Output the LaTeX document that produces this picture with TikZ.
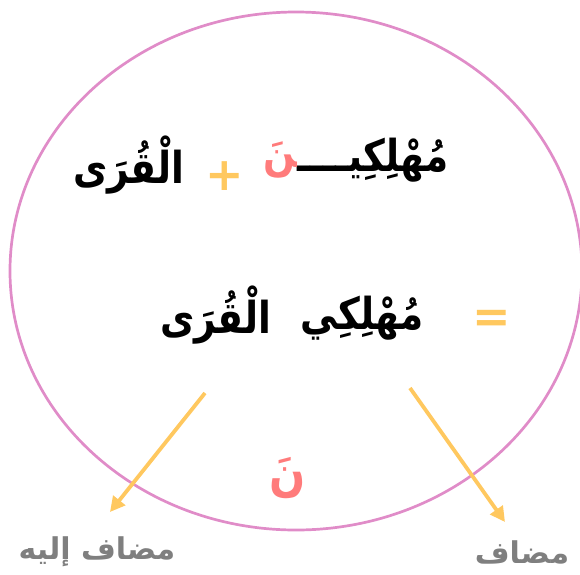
\documentclass[tikz,border=0pt]{standalone}
\usepackage{fontspec}
\usepackage{graphicx}
\usetikzlibrary{arrows.meta}
\TeXXeTstate=1
\newfontfamily\arabicfont[Script=Arabic]{DejaVu Sans}
\newcommand\narrowar[1]{\scalebox{0.85}[1]{\beginR #1\endR}}
\definecolor{ringc}{HTML}{E08CC8}
\definecolor{pinkc}{HTML}{FF7B7B}
\definecolor{orangec}{HTML}{FFC85F}
\definecolor{grayc}{HTML}{7F7F7F}
\tikzset{
  bigword/.style={inner sep=0pt, font=\arabicfont\bfseries\fontsize{44}{52}\selectfont},
  sign/.style={inner sep=0pt, text=orangec, font=\arabicfont\bfseries\fontsize{46}{54}\selectfont},
  label/.style={inner sep=0pt, text=grayc, font=\arabicfont\bfseries\fontsize{30}{36}\selectfont},
  pointer/.style={draw=orangec, line width=3.8pt, -{Triangle[length=15pt,width=15pt]}}
}
\begin{document}
\begin{tikzpicture}[x=1pt,y=-1pt]
\useasboundingbox (0,0) rectangle (580,574);
\draw[ringc, line width=2.7pt] (296,271) ellipse [x radius=286, y radius=259];
% top line
\node[bigword, anchor=east] (w1) at (449,160) {\narrowar{مُهْلِكِيــــ\char"200D}};
\node[bigword, text=pinkc, anchor=east] (w1n) at ([xshift=0.4pt]w1.west) {\narrowar{\char"200D نَ}};
\node[sign] (plus) at (225,176) {+};
\node[bigword] (w2) at (129,165) {\narrowar{الْقُرَى}};
% second line
\node[sign] (eq) at (492,321) {=};
\node[bigword] (w3) at (362,318) {\narrowar{مُهْلِكِي}};
\node[bigword] (w4) at (216,315) {\narrowar{الْقُرَى}};
% bottom
\node[bigword, text=pinkc, font=\arabicfont\bfseries\fontsize{50}{58}\selectfont] (nun) at (288,478) {\narrowar{نَ}};
\node[label] (l1) at (97,552) {\beginR مضاف إليه\endR};
\node[label] (l2) at (522,552) {\beginR مضاف\endR};
\coordinate (a1s) at (205,393);
\coordinate (a1e) at (110,512);
\coordinate (a2s) at (410,388);
\coordinate (a2e) at (505,522);
\draw[pointer] (a1s) -- (a1e);
\draw[pointer] (a2s) -- (a2e);
\end{tikzpicture}
\end{document}
